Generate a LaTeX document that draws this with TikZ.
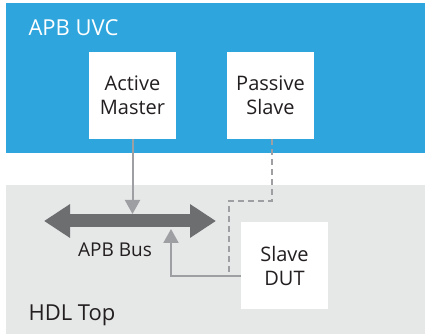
\documentclass[tikz,border=0pt]{standalone}
\usepackage{fontspec}
\setmainfont{Open Sans}
\usetikzlibrary{arrows.meta}
\definecolor{uvcblue}{HTML}{2EA6DD}
\definecolor{toppale}{HTML}{E6E7E7}
\definecolor{busgray}{HTML}{6D6E70}
\definecolor{wiregray}{HTML}{9D9FA2}
\definecolor{inkdark}{HTML}{231F20}
\tikzset{
  px/.style={x=1pt,y=-1pt},
  block/.style={fill=white,minimum width=87pt,minimum height=87pt,inner sep=0pt,
    align=center,font=\fontsize{20}{24}\selectfont,text=inkdark},
  wire/.style={draw=wiregray,line width=2pt},
  wirehead/.style={-{Triangle[width=15pt,length=14pt]}},
}
\begin{document}
\begin{tikzpicture}[px]
  \useasboundingbox (0,0) rectangle (425,336);
  % environment regions
  \fill[uvcblue] (6,3) rectangle (425,153);
  \fill[toppale] (6,185) rectangle (425,334);
  \node[anchor=west,text=white,font=\fontsize{22}{26}\selectfont] (uvc) at (25,28) {APB UVC};
  \node[anchor=west,text=inkdark,font=\fontsize{22}{26}\selectfont] (top) at (25,315) {HDL Top};
  % components
  \node[block] (master) at (132.5,95.5) {Active\\Master};
  \node[block] (pslave) at (270.5,95.5) {Passive\\Slave};
  \node[block] (dut) at (284.5,265.5) {Slave\\DUT};
  % bus
  \coordinate (busL) at (44,221);
  \coordinate (busR) at (216,221);
  \draw[busgray,line width=13pt,{Triangle[width=32pt,length=26pt]}-{Triangle[width=32pt,length=26pt]}] (busL) -- (busR);
  \node[text=inkdark,font=\fontsize{19}{24}\selectfont] (buslabel) at (115,250) {APB Bus};
  \coordinate (busTop) at (132.5,214);
  \coordinate (busBot) at (171,229);
  % connections
  \draw[wire,wirehead] (master.south) -- (busTop);
  \draw[wire,wirehead] (dut.west |- 0,276) -| (busBot);
  \coordinate (monStart) at ([xshift=1.5pt]pslave.south);
  \coordinate (monEnd) at (229,272);
  \draw[wire,dash pattern=on 6pt off 4pt] (monStart) -- (monStart |- 0,201) -| (monEnd);
\end{tikzpicture}
\end{document}
